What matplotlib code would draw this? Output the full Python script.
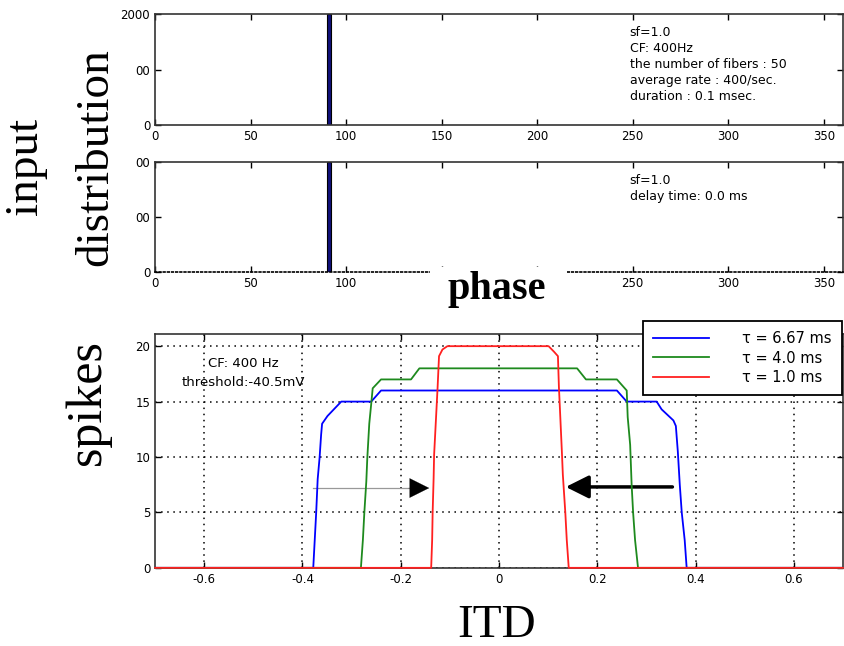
import matplotlib.pyplot as plt
from matplotlib.patches import Rectangle

# datos
fase_bin = [90]
cuenta_1 = [2000]
cuenta_2 = [2000]
fase_ticks = [0, 50, 100, 150, 200, 250, 300, 350]
fase_labels_1 = ['0', '50', '100', '150', '200', '250', '300', '350']
fase_labels_2 = ['0', '50', '100', '', '', '250', '300', '350']  # 150 y 200 tapados por "phase"
y1_ticks = [0, 1000, 2000]
y1_labels = ['0', '00', '2000']
y2_labels = ['0', '00', '00']

itd_azul = [-0.70, -0.378, -0.375, -0.372, -0.369, -0.365, -0.362, -0.360, -0.349, -0.321, -0.260, -0.240,
            0.240, 0.260, 0.321, 0.331, 0.355, 0.360, 0.364, 0.368, 0.372, 0.378, 0.382, 0.70]
spk_azul = [0, 0, 2.5, 5, 8, 10, 12, 13, 13.7, 15, 15, 16,
            16, 15, 15, 14.3, 13.3, 12.8, 10.5, 7.5, 5, 2.5, 0, 0]
itd_verde = [-0.70, -0.281, -0.277, -0.274, -0.270, -0.268, -0.264, -0.260, -0.257, -0.240, -0.179, -0.162,
             0.159, 0.177, 0.240, 0.260, 0.262, 0.267, 0.270, 0.273, 0.277, 0.283, 0.70]
spk_verde = [0, 0, 2.5, 5, 7.8, 9.9, 13, 14.8, 16.2, 17, 17, 18,
             18, 17, 17, 16, 13.6, 11.1, 7.5, 5, 2.5, 0, 0]
itd_rojo = [-0.70, -0.138, -0.136, -0.135, -0.133, -0.132, -0.125, -0.122, -0.115, -0.105,
            0.101, 0.112, 0.120, 0.122, 0.124, 0.128, 0.130, 0.135, 0.138, 0.142, 0.70]
spk_rojo = [0, 0, 2.5, 5, 8.1, 10.2, 16.2, 19.1, 19.7, 20,
            20, 19.5, 19.1, 16.3, 14.4, 10.5, 8.4, 5, 2.5, 0, 0]
itd_ticks = [-0.6, -0.4, -0.2, 0, 0.2, 0.4, 0.6]
itd_labels = ['-0.6', '-0.4', '-0.2', '0', '0.2', '0.4', '0.6']
spk_ticks = [0, 5, 10, 15, 20]

plt.rcParams['font.family'] = 'DejaVu Sans'
fig = plt.figure(figsize=(8.44, 6.46), dpi=100)

def estilo(ax):
    ax.tick_params(direction='in', top=True, right=True, length=4, labelsize=8.5, width=1)
    for s in ax.spines.values():
        s.set_linewidth(1.2)
        s.set_color('#333333')

# panel 1
ax1 = fig.add_axes([0.1837, 0.8065, 0.815, 0.1715])
ax1.bar(fase_bin, cuenta_1, width=2, align='edge', color='#10107a', edgecolor='black', linewidth=0.8)
ax1.set_xlim(0, 360)
ax1.set_ylim(0, 2000)
ax1.set_xticks(fase_ticks)
ax1.set_xticklabels(fase_labels_1)
ax1.set_yticks(y1_ticks)
ax1.set_yticklabels(y1_labels)
estilo(ax1)
ax1.text(0.69, 0.89, 'sf=1.0\nCF: 400Hz\nthe number of fibers : 50\naverage rate : 400/sec.\nduration : 0.1 msec.',
         transform=ax1.transAxes, fontsize=9, va='top', ha='left', linespacing=1.28)

# panel 2
ax2 = fig.add_axes([0.1837, 0.579, 0.815, 0.170])
ax2.bar(fase_bin, cuenta_2, width=2, align='edge', color='#10107a', edgecolor='black', linewidth=0.8)
ax2.set_xlim(0, 360)
ax2.set_ylim(0, 2000)
ax2.set_xticks(fase_ticks)
ax2.set_xticklabels(fase_labels_2)
ax2.set_yticks(y1_ticks)
ax2.set_yticklabels(y2_labels)
estilo(ax2)
ax2.spines['bottom'].set_linestyle((0, (1, 1.5)))
ax2.spines['bottom'].set_color('black')
ax2.text(0.69, 0.89, 'sf=1.0\ndelay time: 0.0 ms', transform=ax2.transAxes, fontsize=9,
         va='top', ha='left', linespacing=1.28)

# panel 3
ax3 = fig.add_axes([0.1837, 0.121, 0.815, 0.362])
ax3.plot(itd_azul, spk_azul, color='#0000ff', lw=1.3, label='τ = 6.67 ms', clip_on=False, zorder=4)
ax3.plot(itd_verde, spk_verde, color='#1e8a1e', lw=1.3, label='τ = 4.0 ms', clip_on=False, zorder=4)
ax3.plot(itd_rojo, spk_rojo, color='#ff2020', lw=1.3, label='τ = 1.0 ms', clip_on=False, zorder=5)
ax3.set_xlim(-0.7, 0.7)
ax3.set_ylim(0, 21.1)
ax3.set_xticks(itd_ticks)
ax3.set_xticklabels(itd_labels)
ax3.set_yticks(spk_ticks)
estilo(ax3)
ax3.grid(True, color='black', linestyle=(0, (1, 3)), linewidth=1.1)
ax3.text(-0.521, 19.0, 'CF: 400 Hz\nthreshold:-40.5mV', fontsize=9.5, ha='center', va='top', linespacing=1.6)

# flechas
ax3.plot([-0.379, -0.18], [7.2, 7.2], color='#999999', lw=0.9)
ax3.annotate('', xy=(-0.142, 7.2), xytext=(-0.185, 7.2),
             arrowprops=dict(arrowstyle='-|>,head_length=1.0,head_width=0.5', mutation_scale=14,
                             color='black', lw=0.1, shrinkA=0, shrinkB=0))
ax3.annotate('', xy=(0.136, 7.3), xytext=(0.353, 7.3),
             arrowprops=dict(arrowstyle='-|>,head_length=1.0,head_width=0.5', mutation_scale=14,
                             color='black', lw=2.5, shrinkA=0, shrinkB=0))

leg = ax3.legend(loc='upper left', bbox_to_anchor=(643 / 844, 1 - 321 / 646), bbox_transform=fig.transFigure,
                 fontsize=10.5, handlelength=3.8, handletextpad=2.3, labelspacing=0.3, borderpad=0.7,
                 borderaxespad=0, fancybox=False, framealpha=1, edgecolor='black')
leg.get_frame().set_linewidth(1.3)
leg.set_zorder(10)

# etiquetas grandes
serif = 'Liberation Serif'
fig.text(37 / 844, 1 - 166 / 646, 'input', rotation=90, rotation_mode='anchor', fontsize=34, family=serif,
         ha='center', va='baseline')
fig.text(107 / 844, 1 - 157 / 646, 'distribution', rotation=90, rotation_mode='anchor', fontsize=34,
         family=serif, ha='center', va='baseline')
fig.text(100 / 844, 1 - 403 / 646, 'spikes', rotation=90, rotation_mode='anchor', fontsize=36, family=serif,
         ha='center', va='baseline')
fig.text(497 / 844, 1 - 637 / 646, 'ITD', fontsize=34, family=serif, ha='center', va='baseline')

fig.patches.append(Rectangle((430 / 844, 1 - 314 / 646), 137 / 844, 47 / 646, transform=fig.transFigure,
                             facecolor='white', edgecolor='none', zorder=5))
fig.text(497 / 844, 1 - 299 / 646, 'phase', fontsize=29, family=serif, fontweight='bold',
         ha='center', va='baseline', zorder=6)

plt.savefig('out.png', dpi=100)
